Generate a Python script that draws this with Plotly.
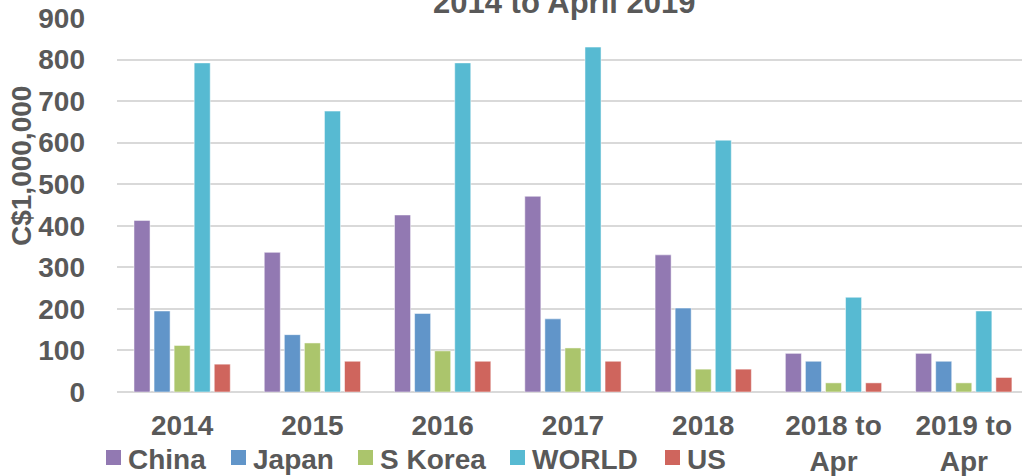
import plotly.graph_objects as go

categories = ["2014", "2015", "2016", "2017", "2018", "2018 to<br>Apr", "2019 to<br>Apr"]
china = [413, 336, 426, 471, 330, 93, 93]
japan = [195, 138, 189, 176, 202, 74, 74]
s_korea = [112, 118, 99, 106, 55, 22, 22]
world = [792, 676, 792, 830, 606, 228, 195]
us = [67, 74, 74, 74, 55, 22, 35]

series_names = ["China", "Japan", "S Korea", "WORLD", "US"]
series_values = [china, japan, s_korea, world, us]
series_colors = ["#9279B2", "#6195C9", "#ABC56C", "#57BAD2", "#CF655D"]

FONT = "Liberation Sans, Arial, sans-serif"
TXT = "#595959"
W, H = 1022, 476
L, R, T, B = 117, 0, 18, 84
PW, PH = W - L - R, H - T - B


def px_x(px):
    return (px - L) / PW


def px_y(py):
    return (H - B - py) / PH


fig = go.Figure()
for name, vals, col in zip(series_names, series_values, series_colors):
    fig.add_trace(go.Bar(
        name=name, x=list(range(len(categories))), y=vals,
        marker=dict(color=col, line=dict(color="rgba(255,255,255,0.5)", width=1)),
        showlegend=False,
    ))

fig.update_layout(
    width=W, height=H,
    margin=dict(l=L, r=R, t=T, b=B, autoexpand=False),
    paper_bgcolor="white", plot_bgcolor="white",
    barmode="group", bargap=0.23, bargroupgap=0.2,
    font=dict(family=FONT, size=28, color=TXT),
    showlegend=False,
)
fig.update_xaxes(
    range=[-0.5, 6.447],
    tickmode="array", tickvals=list(range(len(categories))), ticktext=categories,
    tickfont=dict(family=FONT, size=28, color=TXT, weight="bold"),
    showgrid=False, showline=False, ticks="", ticklabelstandoff=14,
)
fig.update_yaxes(
    range=[0, 900], tickvals=[0, 100, 200, 300, 400, 500, 600, 700, 800, 900],
    tickfont=dict(family=FONT, size=28, color=TXT, weight="bold"),
    showgrid=True, gridcolor="#D9D9D9", gridwidth=2,
    zeroline=True, zerolinecolor="#D9D9D9", zerolinewidth=2,
    showline=False, ticks="", ticklabelstandoff=31,
)
fig.add_annotation(
    text="C$1,000,000", textangle=-90, xref="paper", yref="paper",
    x=px_x(21), y=px_y(166), xanchor="center", yanchor="middle",
    showarrow=False, font=dict(family=FONT, size=28, color=TXT, weight="bold"),
)
fig.add_annotation(
    text="2014 to April 2019", xref="paper", yref="paper",
    x=px_x(564), y=px_y(2), xanchor="center", yanchor="middle",
    showarrow=False, font=dict(family=FONT, size=31, color=TXT, weight="bold"),
)

# legend drawn along the bottom
legend_square_x = [106, 231, 358, 510, 665]
sq = 15
for name, col, lx in zip(series_names, series_colors, legend_square_x):
    fig.add_shape(
        type="rect", xref="paper", yref="paper",
        x0=px_x(lx), x1=px_x(lx + sq), y0=px_y(465), y1=px_y(450),
        fillcolor=col, line=dict(width=0),
    )
    fig.add_annotation(
        text=name, xref="paper", yref="paper",
        x=px_x(lx + sq + 6), y=px_y(459), xanchor="left", yanchor="middle",
        showarrow=False, borderpad=0,
        font=dict(family=FONT, size=28, color=TXT, weight="bold"),
    )

fig.write_html(
    "out.html",
    config={"displayModeBar": False},
    post_script="document.body.style.margin='0';document.body.style.overflow='hidden';",
)
